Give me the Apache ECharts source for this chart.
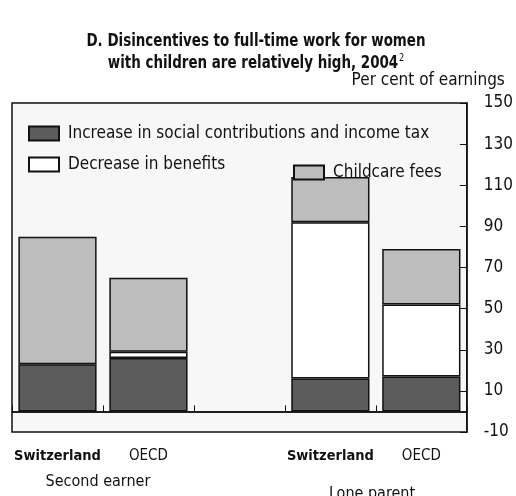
<!DOCTYPE html>
<html>
<head>
<meta charset="utf-8">
<script src="https://cdn.jsdelivr.net/npm/echarts@6/dist/echarts.min.js"></script>
<style>
html,body{margin:0;padding:0;background:#fff;}
#chart{width:516px;height:496px;}
</style>
</head>
<body>
<div id="chart"></div>
<script>
const categories = ['Switzerland', 'OECD', '', 'Switzerland', 'OECD'];
const boldCategory = [true, false, false, true, false];
const taxValues = [23, 26, null, 16, 17];
const benefitValues = [null, 3, null, 76, 35];
const childcareValues = [62, 36, null, 22, 27];
const seriesNames = ['Increase in social contributions and income tax', 'Decrease in benefits', 'Childcare fees'];
const yTicks = { min: -10, max: 150, interval: 20 };
const groupLabels = ['Second earner', 'Lone parent'];
const titleLines = ['D. Disincentives to full-time work for women', 'with children are relatively high, 2004'];

const FONT = "'DejaVu Sans Condensed', 'Liberation Sans Narrow', sans-serif";
const chart = echarts.init(document.getElementById('chart'));

const barStyle = (color) => ({ color: color, borderColor: '#111', borderWidth: 1.5 });
const legendText = { fontFamily: FONT, fontSize: 17, color: '#111', padding: [0, 0, 0, 4] };

const option = {
  backgroundColor: '#ffffff',
  animation: false,
  grid: { left: 12, right: 49, top: 103, bottom: 64, show: true, backgroundColor: '#f7f7f7', borderColor: '#111', borderWidth: 1.5 },
  legend: [
    { data: [seriesNames[0]], left: 28, top: 125, padding: 0, icon: 'rect', itemWidth: 30, itemHeight: 14, textStyle: legendText },
    { data: [seriesNames[1]], left: 28, top: 156, padding: 0, icon: 'rect', itemWidth: 30, itemHeight: 14, textStyle: legendText },
    { data: [seriesNames[2]], left: 293, top: 164, padding: 0, icon: 'rect', itemWidth: 30, itemHeight: 14, textStyle: legendText }
  ],
  xAxis: {
    type: 'category', data: categories, position: 'bottom',
    axisLine: { show: true, lineStyle: { color: '#111', width: 1.5 } },
    axisTick: { show: true, inside: true, length: 6, lineStyle: { color: '#111' } },
    axisLabel: {
      margin: 17, interval: 0,
      formatter: (v, i) => boldCategory[i] ? '{b|' + v + '}' : '{n|' + v + '}',
      rich: {
        b: { fontFamily: FONT, fontWeight: 'bold', fontSize: 14.5, color: '#111' },
        n: { fontFamily: FONT, fontSize: 15, color: '#111' }
      }
    }
  },
  yAxis: {
    type: 'value', position: 'right', min: yTicks.min, max: yTicks.max, interval: yTicks.interval,
    name: 'Per cent of earnings', nameLocation: 'end', nameGap: 14,
    nameTextStyle: { fontFamily: FONT, fontSize: 17, color: '#111', align: 'right', padding: [0, -38, 0, 0] },
    axisLine: { show: true, lineStyle: { color: '#111', width: 1.5 } },
    axisTick: { show: true, inside: true, length: 7, lineStyle: { color: '#111' } },
    axisLabel: { fontFamily: FONT, fontSize: 17, color: '#111', margin: 17 },
    splitLine: { show: false }
  },
  series: [
    { name: seriesNames[0], type: 'bar', stack: 'a', data: taxValues, barWidth: '86%', itemStyle: barStyle('#5c5c5c'),
      markLine: { silent: true, symbol: 'none', label: { show: false }, lineStyle: { color: '#111', width: 1.5, type: 'solid' }, data: [{ yAxis: 0 }] } },
    { name: seriesNames[1], type: 'bar', stack: 'a', data: benefitValues, itemStyle: barStyle('#ffffff') },
    { name: seriesNames[2], type: 'bar', stack: 'a', data: childcareValues, itemStyle: barStyle('#bdbdbd') }
  ],
  graphic: [
    { type: 'text', x: 256, y: 41, scaleX: 0.83,
      style: { text: titleLines[0], fontFamily: FONT, fontWeight: 'bold', fontSize: 18, fill: '#111', textAlign: 'center', textVerticalAlign: 'middle' } },
    { type: 'text', x: 256, y: 63, scaleX: 0.83,
      style: { text: titleLines[1] + '{sup|2}', fontFamily: FONT, fontWeight: 'bold', fontSize: 18, fill: '#111', textAlign: 'center', textVerticalAlign: 'middle',
        rich: { sup: { fontSize: 11, fontWeight: 'normal', fontFamily: FONT, fill: '#111', verticalAlign: 'top', padding: [0, 0, 9, 1] } } } },
    { type: 'text', x: 98, y: 474, style: { text: groupLabels[0], fontFamily: FONT, fontSize: 16, fill: '#111', textAlign: 'center' } },
    { type: 'text', x: 372, y: 486, style: { text: groupLabels[1], fontFamily: FONT, fontSize: 16, fill: '#111', textAlign: 'center' } }
  ]
};
chart.setOption(option);
</script>
</body>
</html>
